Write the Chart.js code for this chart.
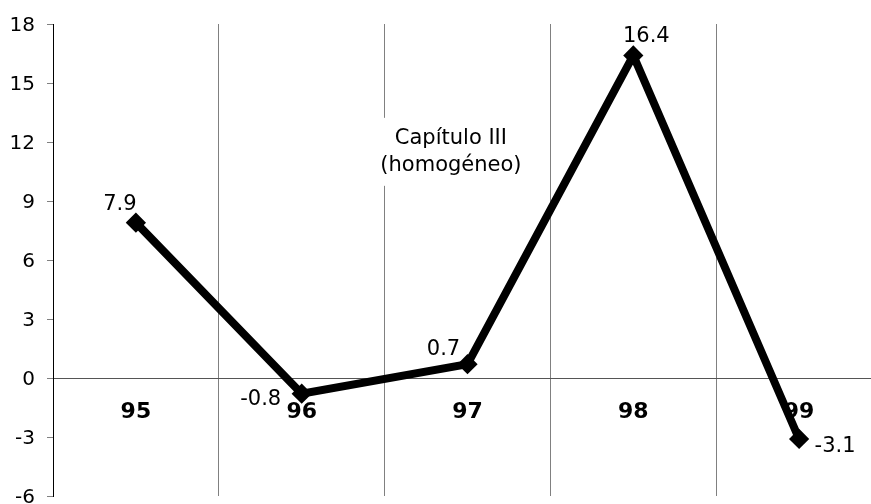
<!DOCTYPE html>
<html>
<head>
<meta charset="utf-8">
<script src="https://cdn.jsdelivr.net/npm/chart.js@4"></script>
<style>
  html, body { margin: 0; padding: 0; background: #fff; overflow: hidden; }
  #wrap { width: 900px; height: 520px; }
</style>
</head>
<body>
<div id="wrap"><canvas id="chart"></canvas></div>
<script>
// ---- Data ----
const categories = ['95', '96', '97', '98', '99'];
const values = [7.9, -0.8, 0.7, 16.4, -3.1];
const yTickValues = [-6, -3, 0, 3, 6, 9, 12, 15, 18];
const noteLines = ['Capítulo III', '(homogéneo)'];

const FONT = '"DejaVu Sans", Verdana, sans-serif';

// value labels next to each point
const valueLabels = {
  id: 'valueLabels',
  afterDatasetsDraw(chart, args, opts) {
    const { ctx } = chart;
    const meta = chart.getDatasetMeta(0);
    ctx.save();
    ctx.font = `${opts.size}px ${FONT}`;
    ctx.fillStyle = '#000';
    ctx.textAlign = 'center';
    ctx.textBaseline = 'middle';
    meta.data.forEach((pt, i) => {
      const [dx, dy] = opts.offsets[i];
      ctx.fillText(values[i].toFixed(1), pt.x + dx, pt.y + dy);
    });
    ctx.restore();
  }
};

// text note on a white box
const noteBox = {
  id: 'noteBox',
  afterDraw(chart, args, opts) {
    const { ctx, scales: { x, y } } = chart;
    const cx = x.getPixelForValue(opts.x), cy = y.getPixelForValue(opts.y);
    ctx.save();
    ctx.font = `${opts.size}px ${FONT}`;
    const w = Math.max(...noteLines.map(t => ctx.measureText(t).width));
    const h = opts.lineHeight * noteLines.length;
    ctx.fillStyle = '#fff';
    ctx.fillRect(cx - w / 2 - opts.pad, cy - h / 2 - opts.pad, w + 2 * opts.pad, h + 2 * opts.pad);
    ctx.fillStyle = '#000';
    ctx.textAlign = 'center';
    ctx.textBaseline = 'middle';
    noteLines.forEach((t, i) => ctx.fillText(t, cx, cy - h / 2 + opts.lineHeight * (i + 0.5)));
    ctx.restore();
  }
};

new Chart(document.getElementById('chart'), {
  type: 'line',
  data: {
    labels: categories,
    datasets: [{
      data: values,
      borderColor: '#000',
      borderWidth: 8,
      pointStyle: 'rectRot',
      pointRadius: 8,
      pointBorderWidth: 3,
      pointBackgroundColor: '#000',
      pointBorderColor: '#000',
      tension: 0,
      clip: false
    }]
  },
  options: {
    responsive: true,
    maintainAspectRatio: false,
    animation: false,
    layout: { padding: { left: 0, top: 21, right: 18, bottom: 22 } },
    plugins: {
      legend: { display: false },
      tooltip: { enabled: false },
      valueLabels: { size: 21, offsets: [[-16, -18], [-41, 6], [-24, -15], [13, -19], [36, 8]] },
      noteBox: { x: 1.9, y: 11.5, size: 21, lineHeight: 27, pad: 7 }
    },
    scales: {
      x: {
        type: 'category',
        position: { y: 0 },
        offset: true,
        grid: { offset: true, color: '#808080', lineWidth: 1, drawTicks: false },
        border: { color: '#555', width: 1 },
        ticks: { padding: 21, color: '#000', maxRotation: 0, autoSkip: false,
                 font: { family: FONT, size: 22, weight: 'bold' } }
      },
      y: {
        min: -6,
        max: 18,
        afterBuildTicks: s => { s.ticks = yTickValues.map(v => ({ value: v })); },
        afterFit: s => { s.width = 53; },
        grid: { drawOnChartArea: false, drawTicks: true, tickLength: 6, color: '#808080' },
        border: { color: '#000', width: 1 },
        ticks: { padding: 12, labelOffset: 2, color: '#000', font: { family: FONT, size: 20 } }
      }
    }
  },
  plugins: [valueLabels, noteBox]
});
</script>
</body>
</html>
